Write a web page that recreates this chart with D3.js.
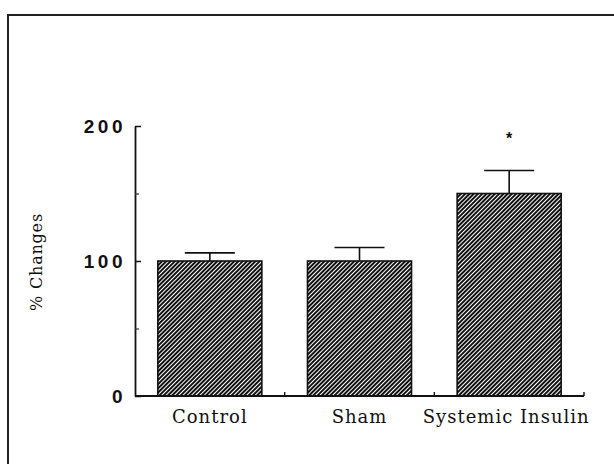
<!DOCTYPE html>
<html>
<head>
<meta charset="utf-8">
<script src="https://cdn.jsdelivr.net/npm/d3@7"></script>
<style>
  body { margin: 0; background: #fff; }
  svg { display: block; }
  .serif { font-family: "DejaVu Serif", "Liberation Serif", serif; fill: #111; }
  .ylab text { font-family: "Liberation Sans", Arial, sans-serif; font-weight: bold; font-size: 19px; letter-spacing: 3.5px; fill: #111; }
</style>
</head>
<body>
<svg id="chart" width="614" height="464"></svg>
<script>
// data
const categories = ["Control", "Sham", "Systemic Insulin"];
const means = [100, 100, 150];
const errors = [6, 10, 17];
const significant = [false, false, true];
const majorTicks = [0, 100, 200];
const minorTicks = [50, 150];

const width = 614, height = 464;
const svg = d3.select("#chart");

// frame round the figure (only left and top edges show)
svg.append("path")
  .attr("d", `M8,${height} L8,15 L${width},15`)
  .attr("fill", "none")
  .attr("stroke", "#222")
  .attr("stroke-width", 2);

// hatch pattern
const defs = svg.append("defs");
defs.append("pattern")
  .attr("id", "hatch")
  .attr("patternUnits", "userSpaceOnUse")
  .attr("width", 3)
  .attr("height", 3)
  .attr("patternTransform", "rotate(45)")
  .call(p => {
    p.append("rect").attr("width", 3).attr("height", 3).attr("fill", "#fff");
    p.append("rect").attr("width", 2).attr("height", 3).attr("fill", "#111");
  });

const y = d3.scaleLinear().domain([0, 200]).range([396, 126]);
const x = d3.scaleBand().domain(categories).range([135, 584]).padding(0);
const barW = x.bandwidth() * 0.695;

/////////////////////////////////////////////////////////
// Y AXIS

const yAxis = svg.append("g")
  .attr("class", "ylab")
  .attr("transform", `translate(${x.range()[0]},0)`)
  .call(d3.axisLeft(y).tickValues(majorTicks).tickSizeInner(-6).tickSizeOuter(0).tickPadding(9));

yAxis.select(".domain").attr("stroke", "#111").attr("stroke-width", 1.8);
yAxis.selectAll(".tick line").attr("stroke", "#111").attr("stroke-width", 1.5);

const yMinor = svg.append("g")
  .attr("transform", `translate(${x.range()[0]},0)`)
  .call(d3.axisLeft(y).tickValues(minorTicks).tickSize(-4).tickFormat(""));
yMinor.select(".domain").remove();
yMinor.selectAll(".tick line").attr("stroke", "#333").attr("stroke-width", 1.2);

svg.append("text")
  .attr("class", "serif")
  .attr("transform", "translate(42,262) rotate(-90)")
  .attr("text-anchor", "middle")
  .style("font-size", "16px")
  .style("letter-spacing", "0.8px")
  .text("% Changes");

/////////////////////////////////////////////////////////
// BARS

const bar = svg.selectAll("g.bar")
  .data(categories.map((c, i) => ({ cat: c, mean: means[i], err: errors[i], sig: significant[i] })))
  .enter().append("g")
  .attr("class", "bar")
  .attr("transform", d => `translate(${x(d.cat) + x.bandwidth() / 2},0)`);

bar.append("rect")
  .attr("x", -barW / 2)
  .attr("y", d => y(d.mean))
  .attr("width", barW)
  .attr("height", d => y(0) - y(d.mean))
  .attr("fill", "url(#hatch)")
  .attr("stroke", "#111")
  .attr("stroke-width", 1.6);

// upper error whisker
bar.append("line")
  .attr("y1", d => y(d.mean))
  .attr("y2", d => y(d.mean + d.err))
  .attr("stroke", "#111")
  .attr("stroke-width", 1.6);

bar.append("line")
  .attr("x1", -25)
  .attr("x2", 25)
  .attr("y1", d => y(d.mean + d.err))
  .attr("y2", d => y(d.mean + d.err))
  .attr("stroke", "#111")
  .attr("stroke-width", 1.6);

bar.filter(d => d.sig).append("text")
  .attr("y", d => y(d.mean + d.err) - 27)
  .attr("text-anchor", "middle")
  .style("font-family", "Liberation Sans, Arial, sans-serif")
  .style("font-weight", "bold")
  .style("font-size", "16px")
  .attr("fill", "#111")
  .text("*");

/////////////////////////////////////////////////////////
// X AXIS

svg.append("line")
  .attr("x1", x.range()[0])
  .attr("x2", x.range()[1])
  .attr("y1", y(0))
  .attr("y2", y(0))
  .attr("stroke", "#111")
  .attr("stroke-width", 1.8);

svg.selectAll("line.xtick")
  .data(categories)
  .enter().append("line")
  .attr("class", "xtick")
  .attr("x1", d => x(d) + x.bandwidth())
  .attr("x2", d => x(d) + x.bandwidth())
  .attr("y1", y(0))
  .attr("y2", y(0) - 4)
  .attr("stroke", "#111")
  .attr("stroke-width", 1.4);

svg.selectAll("text.xlab")
  .data(categories)
  .enter().append("text")
  .attr("class", "xlab serif")
  .attr("x", (d, i) => x(d) + x.bandwidth() / 2 + (i === 2 ? -3 : 0))
  .attr("y", 423)
  .attr("text-anchor", "middle")
  .style("font-size", "18px")
  .style("letter-spacing", "1px")
  .text(d => d);
</script>
</body>
</html>
